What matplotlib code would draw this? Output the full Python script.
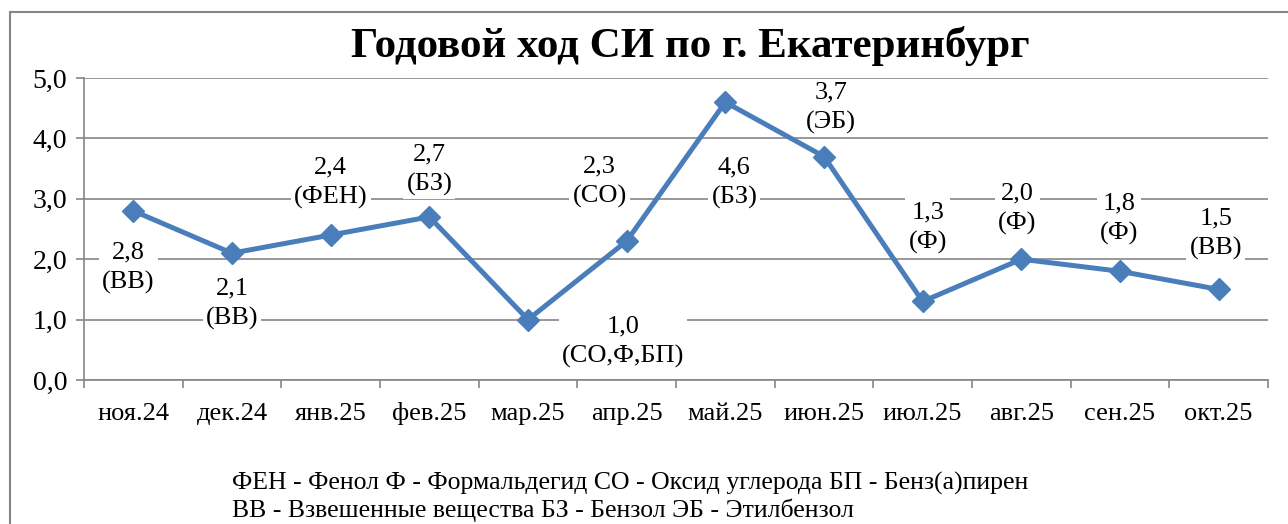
import matplotlib
matplotlib.use('Agg')

import numpy as np
import matplotlib.pyplot as plt
from matplotlib.patches import Rectangle

# Данные
months = ["ноя.24", "дек.24", "янв.25", "фев.25", "мар.25", "апр.25",
          "май.25", "июн.25", "июл.25", "авг.25", "сен.25", "окт.25"]
si_values = [2.8, 2.1, 2.4, 2.7, 1.0, 2.3, 4.6, 3.7, 1.3, 2.0, 1.8, 1.5]
substances = ["ВВ", "ВВ", "ФЕН", "БЗ", "СО,Ф,БП", "СО", "БЗ", "ЭБ", "Ф", "Ф", "Ф", "ВВ"]

# Смещения подписей (в пикселях)
label_offsets = [(-5, -57), (0, -51), (0, 52), (0, 47), (95, -22), (-27, 59),
                 (9, -81), (7, 49), (5, 74), (-4, 50), (-1, 53), (-3, 56)]

W, H = 1288, 524
plt.rcParams['font.family'] = ['Liberation Serif', 'DejaVu Serif']

fig = plt.figure(figsize=(W / 100, H / 100), dpi=100)
ax = fig.add_axes([84 / W, 1 - 380 / H, (1268 - 84) / W, (380 - 78) / H])

grid_color = '#868686'
x = np.arange(len(months))

ax.set_xlim(-0.5, len(months) - 0.5)
ax.set_ylim(0, 5)
ax.set_yticks(np.arange(0, 5.01, 1.0))
ax.set_yticklabels([f"{v:.1f}".replace('.', ',') for v in np.arange(0, 5.01, 1.0)],
                   fontsize=20)
ax.yaxis.grid(True, color=grid_color, linewidth=1.2)
ax.set_axisbelow(True)

ax.set_xticks(x)
ax.set_xticklabels(months, fontsize=19, va='baseline')
ax.set_xticks(np.arange(-0.5, len(months), 1.0), minor=True)
ax.tick_params(axis='x', which='major', length=0, pad=29)
ax.tick_params(axis='x', which='minor', length=6, color=grid_color, width=1.2)
ax.tick_params(axis='y', length=6, color=grid_color, width=1.2, pad=6)

for side in ['top', 'right']:
    ax.spines[side].set_visible(False)
for side in ['left', 'bottom']:
    ax.spines[side].set_color(grid_color)
    ax.spines[side].set_linewidth(1.2)

ax.plot(x, si_values, color='#4A7EBB', linewidth=3.6, marker='D',
        markersize=11, zorder=3)

for xi, v, s, off in zip(x, si_values, substances, label_offsets):
    txt = f"{v:.1f}".replace('.', ',') + "\n(" + s + ")"
    ax.annotate(txt, (xi, v), xytext=off, textcoords='offset pixels',
                ha='center', va='center', fontsize=19, linespacing=1.42,
                bbox=dict(boxstyle='square,pad=0.12', fc='white', ec='none'),
                zorder=4)

fig.text(690 / W, 1 - 46 / H, "Годовой ход СИ по г. Екатеринбург",
         ha='center', va='center', fontsize=31, fontweight='bold')

fig.text(232 / W, 1 - 483 / H,
         "ФЕН - Фенол Ф - Формальдегид СО - Оксид углерода БП - Бенз(а)пирен",
         ha='left', va='center', fontsize=18.5)
fig.text(232 / W, 1 - 510 / H,
         "ВВ - Взвешенные вещества БЗ - Бензол ЭБ - Этилбензол",
         ha='left', va='center', fontsize=18.5)

# Рамка диаграммы
fig.patches.append(Rectangle((10 / W, -0.1), 1.2, 1.1 - 12 / H,
                             transform=fig.transFigure, fill=False,
                             ec=grid_color, lw=1.5))

fig.savefig('out.png', dpi=100)
